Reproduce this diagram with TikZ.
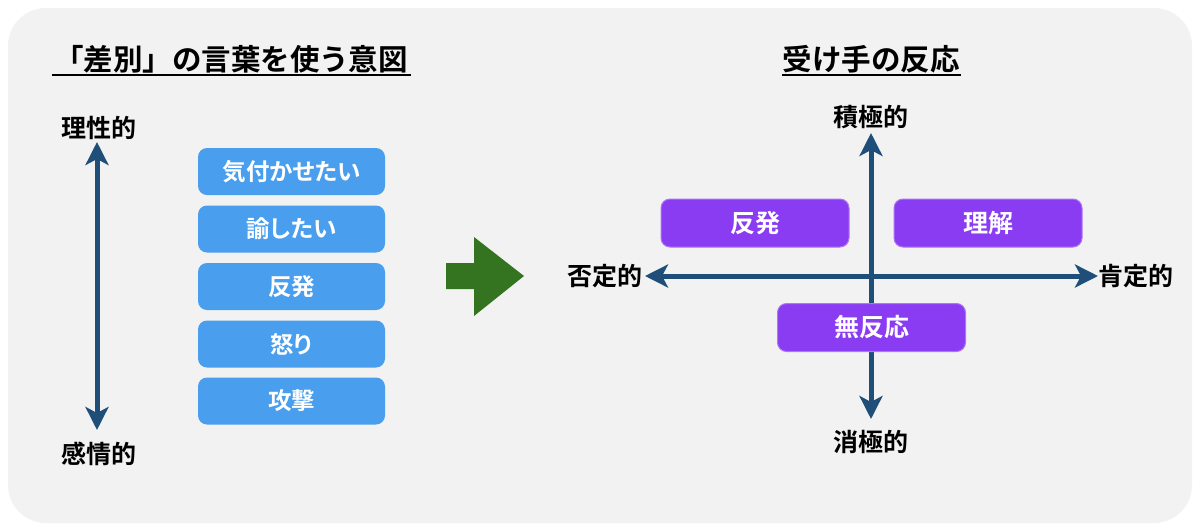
\documentclass[tikz,border=0pt]{standalone}
\usepackage{fontspec}
\setmainfont{Noto Sans CJK JP}[BoldFont={Noto Sans CJK JP Bold}]
\newfontfamily\palt{Noto Sans CJK JP}[BoldFont={Noto Sans CJK JP Bold},RawFeature=+palt]
\usetikzlibrary{arrows.meta}
\definecolor{bgpanel}{HTML}{F2F2F2}
\definecolor{axisblue}{HTML}{1F4E79}
\definecolor{boxblue}{HTML}{4A9EEE}
\definecolor{boxpurple}{HTML}{8A3CF2}
\definecolor{arrowgreen}{HTML}{34731F}
\tikzset{
  axis/.style={draw=axisblue, line width=5pt, {Stealth[length=23pt,width=23pt,inset=6pt]}-{Stealth[length=23pt,width=23pt,inset=6pt]}},
  bluebox/.style={fill=boxblue, rounded corners=9pt, minimum width=187pt, minimum height=47pt, inner sep=0pt, text=white, font=\palt\fontsize{23.5}{23.5}\selectfont\bfseries},
  purplebox/.style={fill=boxpurple, draw=boxpurple!70!white, line width=1pt, rounded corners=9pt, minimum width=188pt, minimum height=48pt, inner sep=0pt, text=white, font=\palt\fontsize{25}{25}\selectfont\bfseries},
  axlabel/.style={inner sep=0pt, font=\fontsize{25}{25}\selectfont\bfseries},
  title/.style={inner sep=0pt, font=\fontsize{29.5}{29.5}\selectfont\bfseries},
}
\begin{document}
\begin{tikzpicture}[x=1pt,y=-1pt]
\useasboundingbox (0,0) rectangle (1200,531);
\fill[white] (0,0) rectangle (1200,531);
\fill[bgpanel, rounded corners=38pt] (8,8) rectangle (1192,523);

% titles
\node[title] (t1) at (231,59) {「差別」の言葉を使う意図};
\draw[line width=2pt] (52,75) -- (411,75);
\node[title] (t2) at (871,59) {受け手の反応};
\draw[line width=2pt] (782,75) -- (961,75);

% left axis
\node[axlabel] (rat) at (99,128) {理性的};
\node[axlabel] (emo) at (99,454) {感情的};
\coordinate (la1) at (97,142);
\coordinate (la2) at (97,430);
\draw[axis] (la2) -- (la1);

% blue boxes
\node[bluebox] (b1) at (291.5,171.5) {気付かせたい};
\node[bluebox] (b2) at (291.5,229) {諭したい};
\node[bluebox] (b3) at (291.5,286.5) {反発};
\node[bluebox] (b4) at (291.5,344) {怒り};
\node[bluebox] (b5) at (291.5,401) {攻撃};

% green arrow
\fill[arrowgreen] (446,263) -- (474,263) -- (474,237) -- (524,276) -- (474,316) -- (474,289) -- (446,289) -- cycle;

% right axes
\node[axlabel] (pos) at (871,117) {積極的};
\node[axlabel] (neg) at (871,442) {消極的};
\node[axlabel] (den) at (605,276) {否定的};
\node[axlabel] (aff) at (1136,276) {肯定的};
\coordinate (top) at (871,133);
\coordinate (bot) at (871,419);
\coordinate (lft) at (645,276);
\coordinate (rgt) at (1098,276);
\draw[axis] (bot) -- (top);
\draw[axis] (lft) -- (rgt);

% purple boxes
\node[purplebox] (p1) at (755,223) {反発};
\node[purplebox] (p2) at (988,223) {理解};
\node[purplebox] (p3) at (871.5,327.5) {無反応};
\end{tikzpicture}
\end{document}
